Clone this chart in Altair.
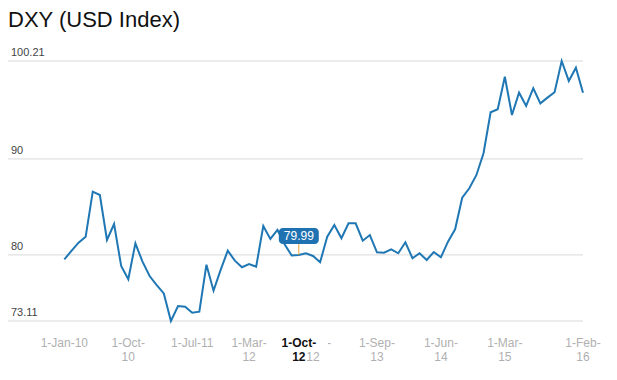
import altair as alt
import pandas as pd

# ---- data ----
title_text = "DXY (USD Index)"
months = pd.date_range("2010-01-01", "2016-02-01", freq="MS")
values = [
    79.54, 80.41, 81.27, 81.90, 86.59, 86.24, 81.55, 83.22, 78.84, 77.46,
    81.21, 79.29, 77.80, 76.86, 75.98, 73.11, 74.67, 74.60, 73.98, 74.08,
    78.98, 76.27, 78.43, 80.44, 79.40, 78.71, 79.05, 78.77, 83.01, 81.66,
    82.60, 81.10, 79.94, 79.99, 80.17, 79.89, 79.23, 81.90, 83.12, 81.73,
    83.29, 83.29, 81.48, 82.07, 80.27, 80.23, 80.58, 80.17, 81.31, 79.65,
    80.17, 79.47, 80.30, 79.75, 81.38, 82.67, 85.96, 86.94, 88.33, 90.59,
    94.86, 95.18, 98.57, 94.58, 96.91, 95.52, 97.37, 95.80, 96.39, 96.95,
    100.21, 98.13, 99.51, 96.91,
]
y_ticks = [73.11, 80, 90, 100.21]
y_tick_labels = ["73.11", "80", "90", "100.21"]
x_label_months = ["2010-01", "2010-10", "2011-07", "2012-03", "2012-12",
                  "2013-09", "2014-06", "2015-03", "2016-02"]
x_label_texts = ["1-Jan-10", "1-Oct-\n10", "1-Jul-11", "1-Mar-\n12", "1-Dec-\n12",
                 "1-Sep-\n13", "1-Jun-\n14", "1-Mar-\n15", "1-Feb-\n16"]
hover_month = "2012-10"
hover_label = "1-Oct-\n12"

month_keys = [m.strftime("%Y-%m") for m in months]
idx = {k: i for i, k in enumerate(month_keys)}

df = pd.DataFrame({"i": range(len(values)), "v": values, "month": month_keys})
grid_df = pd.DataFrame({"v": y_ticks, "label": y_tick_labels})
xlab_df = pd.DataFrame({"i": [idx[m] for m in x_label_months], "label": x_label_texts})
hi = idx[hover_month]
hover_df = pd.DataFrame({"i": [hi], "v": [values[hi]], "label": [hover_label],
                         "val": [f"{values[hi]:.2f}"]})

FONT = "Liberation Sans"
xscale = alt.Scale(domain=[-7.93, 73], nice=False, zero=False)
yscale = alt.Scale(domain=[73.11, 100.21], nice=False, zero=False)
X = alt.X("i:Q", scale=xscale, axis=None)
Y = alt.Y("v:Q", scale=yscale, axis=None)

grid = alt.Chart(grid_df).mark_rule(color="#d9d9d9", strokeWidth=1).encode(
    y=Y, x=alt.value(0), x2=alt.value(575))
ylab = alt.Chart(grid_df).mark_text(align="left", baseline="alphabetic", dy=-5,
                                    fontSize=11, font=FONT, color="#444").encode(
    y=Y, x=alt.value(3), text="label:N")
line = alt.Chart(df).mark_line(color="#1f77b4", strokeWidth=2).encode(x=X, y=Y)

xlab = alt.Chart(xlab_df).mark_text(align="center", baseline="alphabetic", fontSize=12,
                                    font=FONT, color="#b0b0b0", lineBreak="\n",
                                    lineHeight=14).encode(
    x=X, y=alt.value(285.5), text="label:N")
cover = alt.Chart(hover_df).mark_rect(color="white", width=58, height=20).encode(
    x=X, y=alt.value(281))
xbold = alt.Chart(hover_df).mark_text(align="center", baseline="alphabetic", fontSize=12,
                                      font=FONT, fontWeight="bold", color="#111",
                                      lineBreak="\n", lineHeight=14).encode(
    x=X, y=alt.value(285.5), text="label:N")

tip_rule = alt.Chart(hover_df).mark_rule(color="#f0a030", strokeWidth=1).encode(
    x=X, y=Y, y2=alt.value(180))
tip_box = alt.Chart(hover_df).mark_rect(color="#1f72b2", width=40, height=16,
                                        cornerRadius=4, yOffset=-19).encode(x=X, y=Y)
tip_text = alt.Chart(hover_df).mark_text(color="white", fontSize=12, font=FONT,
                                         baseline="middle", align="center", dy=-19).encode(
    x=X, y=Y, text="val:N")

title = alt.Chart(pd.DataFrame({"t": [title_text]})).mark_text(
    align="left", baseline="alphabetic", fontSize=22, font=FONT, color="#111").encode(
    x=alt.value(0), y=alt.value(-34), text="t:N")

chart = alt.layer(grid, ylab, line, xlab, cover, xbold, tip_rule, tip_box, tip_text, title).properties(
    width=575, height=260,
    padding={"left": 0, "top": 53, "right": 26, "bottom": 51},
    autosize="none",
    background="white",
).configure_view(stroke=None)

chart.save("out.html", embed_options={"renderer": "svg", "actions": False})
